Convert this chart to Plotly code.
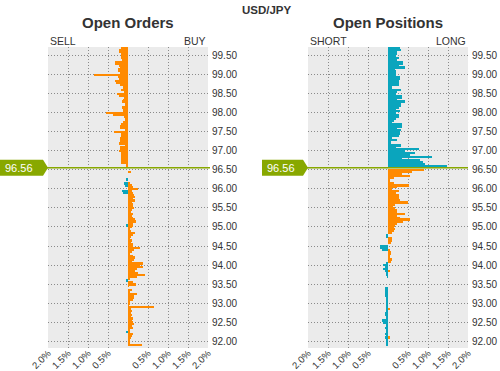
import plotly.graph_objects as go

# ---------------- data ----------------
pair = "USD/JPY"
current_price = 96.56

prices_above = [99.70, 99.65, 99.60, 99.55, 99.50, 99.45, 99.40, 99.35, 99.30, 99.25,
                99.20, 99.15, 99.10, 99.05, 99.00, 98.95, 98.90, 98.85, 98.80, 98.75,
                98.70, 98.65, 98.60, 98.55, 98.50, 98.45, 98.40, 98.35, 98.30, 98.25,
                98.20, 98.15, 98.10, 98.05, 98.00, 97.95, 97.90, 97.85, 97.80, 97.75,
                97.70, 97.65, 97.60, 97.55, 97.50, 97.45, 97.40, 97.35, 97.30, 97.25,
                97.20, 97.15, 97.10, 97.05, 97.00, 96.95, 96.90, 96.85, 96.80, 96.75,
                96.70, 96.65, 96.60]

prices_below = [96.50, 96.45, 96.40, 96.35, 96.30, 96.25, 96.20, 96.15, 96.10, 96.05,
                96.00, 95.95, 95.90, 95.85, 95.80, 95.75, 95.70, 95.65, 95.60, 95.55,
                95.50, 95.45, 95.40, 95.35, 95.30, 95.25, 95.20, 95.15, 95.10, 95.05,
                95.00, 94.95, 94.90, 94.85, 94.80, 94.75, 94.70, 94.65, 94.60, 94.55,
                94.50, 94.45, 94.40, 94.35, 94.30, 94.25, 94.20, 94.15, 94.10, 94.05,
                94.00, 93.95, 93.90, 93.85, 93.80, 93.75, 93.70, 93.65, 93.60, 93.55,
                93.50, 93.45, 93.40, 93.35, 93.30, 93.25, 93.20, 93.15, 93.10, 93.05,
                93.00, 92.95, 92.90, 92.85, 92.80, 92.75, 92.70, 92.65, 92.60, 92.55,
                92.50, 92.45, 92.40, 92.35, 92.30, 92.25, 92.20, 92.15, 92.10, 92.05,
                92.00, 91.95, 91.90]

# Open orders (% of total)
orders_sell_above = [0.17, 0.22, 0.22, 0.17, 0.18, 0.18, 0.14, 0.32, 0.32, 0.22,
                     0.20, 0.25, 0.25, 0.20, 0.85, 0.25, 0.23, 0.32, 0.30, 0.19,
                     0.12, 0.12, 0.17, 0.10, 0.27, 0.22, 0.10, 0.13, 0.15, 0.08,
                     0.08, 0.15, 0.13, 0.13, 0.54, 0.38, 0.11, 0.08, 0.08, 0.13,
                     0.17, 0.20, 0.20, 0.08, 0.35, 0.18, 0.17, 0.20, 0.20, 0.20,
                     0.22, 0.08, 0.20, 0.20, 0.22, 0.17, 0.17, 0.18, 0.17, 0.17,
                     0.17, 0.06, 0.06]

orders_buy_below = [0.00, 0.07, 0.00, 0.00, 0.00, 0.00, 0.00, 0.05, 0.09, 0.13,
                    0.24, 0.10, 0.12, 0.16, 0.18, 0.12, 0.17, 0.10, 0.13, 0.12,
                    0.15, 0.10, 0.08, 0.12, 0.10, 0.12, 0.18, 0.20, 0.12, 0.12,
                    0.10, 0.05, 0.07, 0.17, 0.12, 0.08, 0.05, 0.10, 0.08, 0.12,
                    0.12, 0.30, 0.15, 0.10, 0.05, 0.13, 0.18, 0.15, 0.10, 0.37,
                    0.30, 0.37, 0.22, 0.17, 0.25, 0.42, 0.22, 0.05, 0.00, 0.12,
                    0.20, 0.02, 0.00, 0.10, 0.05, 0.22, 0.15, 0.15, 0.12, 0.03,
                    0.05, 0.02, 0.65, 0.08, 0.10, 0.07, 0.10, 0.08, 0.13, 0.10,
                    0.13, 0.15, 0.10, 0.12, 0.03, 0.03, 0.13, 0.10, 0.07, 0.05,
                    0.05, 0.03, 0.35]

orders_sell_below = [0.00, 0.00, 0.00, 0.00, 0.00, 0.03, 0.00, 0.10, 0.08, 0.00,
                     0.00, 0.15, 0.12, 0.00, 0.00, 0.00, 0.00, 0.00, 0.00, 0.00,
                     0.00, 0.00, 0.00, 0.00, 0.00, 0.00, 0.00, 0.00, 0.00, 0.03,
                     0.00, 0.00, 0.00, 0.00, 0.00, 0.00, 0.00, 0.00, 0.00, 0.00,
                     0.00, 0.00, 0.00, 0.00, 0.00, 0.00, 0.00, 0.00, 0.00, 0.00,
                     0.00, 0.00, 0.00, 0.00, 0.00, 0.00, 0.00, 0.00, 0.05, 0.00,
                     0.00, 0.00, 0.00, 0.00, 0.00, 0.00, 0.00, 0.00, 0.00, 0.00,
                     0.00, 0.00, 0.00, 0.00, 0.00, 0.00, 0.00, 0.00, 0.00, 0.00,
                     0.00, 0.00, 0.00, 0.00, 0.00, 0.03, 0.00, 0.00, 0.00, 0.00,
                     0.00, 0.00, 0.00]

# Open positions (% of total)
positions_long_above = [0.30, 0.32, 0.23, 0.23, 0.21, 0.27, 0.22, 0.38, 0.38, 0.27,
                        0.43, 0.17, 0.20, 0.20, 0.20, 0.30, 0.30, 0.27, 0.27, 0.27,
                        0.10, 0.10, 0.32, 0.22, 0.20, 0.35, 0.35, 0.22, 0.42, 0.33,
                        0.33, 0.27, 0.20, 0.30, 0.20, 0.28, 0.28, 0.20, 0.15, 0.10,
                        0.35, 0.35, 0.22, 0.33, 0.30, 0.30, 0.27, 0.10, 0.22, 0.07,
                        0.07, 0.32, 0.20, 0.77, 0.42, 0.67, 0.55, 1.11, 0.35, 0.80,
                        0.88, 0.92, 1.47]

positions_long_below = [0.90, 0.60, 0.35, 0.55, 0.15, 0.05, 0.05, 0.15, 0.52, 0.23,
                        0.10, 0.28, 0.20, 0.28, 0.28, 0.28, 0.30, 0.49, 0.17, 0.13,
                        0.17, 0.22, 0.22, 0.42, 0.22, 0.30, 0.55, 0.38, 0.22, 0.17,
                        0.15, 0.17, 0.15, 0.10, 0.00, 0.00, 0.09, 0.10, 0.07, 0.00,
                        0.00, 0.00, 0.05, 0.07, 0.07, 0.05, 0.05, 0.10, 0.07, 0.00,
                        0.00, 0.00, 0.00, 0.03, 0.00, 0.00, 0.00, 0.00, 0.00, 0.00,
                        0.00, 0.00, 0.00, 0.00, 0.00, 0.00, 0.00, 0.00, 0.00, 0.00,
                        0.00, 0.00, 0.00, 0.04, 0.00, 0.00, 0.00, 0.00, 0.00, 0.00,
                        0.00, 0.00, 0.00, 0.00, 0.00, 0.00, 0.00, 0.00, 0.04, 0.00,
                        0.00, 0.00, 0.00]

positions_short_below = [0.00, 0.00, 0.00, 0.00, 0.00, 0.00, 0.00, 0.00, 0.00, 0.00,
                         0.00, 0.00, 0.00, 0.00, 0.00, 0.00, 0.00, 0.00, 0.00, 0.00,
                         0.00, 0.00, 0.00, 0.00, 0.00, 0.00, 0.00, 0.00, 0.00, 0.00,
                         0.00, 0.00, 0.00, 0.00, 0.05, 0.05, 0.00, 0.00, 0.00, 0.00,
                         0.20, 0.20, 0.15, 0.00, 0.00, 0.00, 0.00, 0.00, 0.00, 0.05,
                         0.13, 0.08, 0.12, 0.07, 0.03, 0.03, 0.02, 0.00, 0.00, 0.00,
                         0.00, 0.00, 0.08, 0.08, 0.08, 0.07, 0.07, 0.03, 0.03, 0.03,
                         0.05, 0.03, 0.03, 0.04, 0.03, 0.07, 0.07, 0.03, 0.03, 0.15,
                         0.13, 0.03, 0.03, 0.07, 0.05, 0.06, 0.07, 0.06, 0.07, 0.06,
                         0.06, 0.04, 0.04]

x_tickvals = [-2.0, -1.5, -1.0, -0.5, 0.5, 1.0, 1.5, 2.0]
x_ticktext = ["2.0%", "1.5%", "1.0%", "0.5%", "0.5%", "1.0%", "1.5%", "2.0%"]
y_tickvals = [92.0, 92.5, 93.0, 93.5, 94.0, 94.5, 95.0, 95.5, 96.0, 96.5,
              97.0, 97.5, 98.0, 98.5, 99.0, 99.5]

# ---------------- style ----------------
W, H = 500, 371
ORANGE = "#ff8a00"
BLUE = "#0aa5bd"
GREEN = "#88a800"
TEXT = "#333333"
FONT = "Liberation Sans, Arial, sans-serif"
BAR_W = 0.05
Y_RANGE = [91.82, 99.73]


def neg(vals):
    return [-v for v in vals]


fig = go.Figure()


def add_bar(x, y, color, xa, ya):
    fig.add_trace(go.Bar(x=x, y=y, orientation="h", width=BAR_W,
                         marker=dict(color=color, line=dict(width=0)),
                         xaxis=xa, yaxis=ya, hoverinfo="skip"))


add_bar(neg(orders_sell_above), prices_above, ORANGE, "x", "y")
add_bar(orders_buy_below, prices_below, ORANGE, "x", "y")
add_bar(neg(orders_sell_below), prices_below, BLUE, "x", "y")

add_bar(positions_long_above, prices_above, BLUE, "x2", "y2")
add_bar(positions_long_below, prices_below, ORANGE, "x2", "y2")
add_bar(neg(positions_short_below), prices_below, BLUE, "x2", "y2")

# plot area in pixels
L1, R1 = 48, 208
L2, R2 = 308, 468
TOP, BOT = 47, 348
ydom = [1 - BOT / H, 1 - TOP / H]
GRID = "#8a8a8a"
DASH = "1px,2px"

xcommon = dict(range=[-2, 2], tickvals=x_tickvals, ticktext=x_ticktext,
               tickangle=-45, showgrid=True, gridcolor=GRID,
               griddash=DASH, gridwidth=1, zeroline=False, showline=False,
               ticks="", tickfont=dict(size=9.5, color=TEXT, family=FONT),
               ticklabelstandoff=-3,
               fixedrange=True, automargin=False)
ycommon = dict(range=Y_RANGE, tickvals=y_tickvals, tickformat=".2f",
               side="right", showgrid=True, gridcolor=GRID, griddash=DASH,
               gridwidth=1, zeroline=False, showline=False, ticks="",
               tickfont=dict(size=10, color=TEXT, family=FONT),
               ticklabelstandoff=3,
               fixedrange=True, automargin=False)

fig.update_layout(
    width=W, height=H,
    margin=dict(l=0, r=0, t=0, b=0, autoexpand=False),
    paper_bgcolor="white", plot_bgcolor="#ebebeb",
    showlegend=False, barmode="overlay", bargap=0,
    font=dict(family=FONT, color=TEXT),
    xaxis=dict(domain=[L1 / W, R1 / W], anchor="y", **xcommon),
    yaxis=dict(domain=ydom, anchor="x", **ycommon),
    xaxis2=dict(domain=[L2 / W, R2 / W], anchor="y2", **xcommon),
    yaxis2=dict(domain=ydom, anchor="x2", **ycommon),
)

# current price line + label markers
half_h = 8 / ((BOT - TOP) / (Y_RANGE[1] - Y_RANGE[0]))
shapes = []
annotations = []
for (ly_ref, x_start, x_end, box_l, box_r) in [
        ("y", 0, R1 + 2, 0, 43),
        ("y2", 262, R2, 262, 303)]:
    shapes.append(dict(type="line", xref="paper", yref=ly_ref,
                       x0=x_start / W, x1=x_end / W, y0=current_price, y1=current_price,
                       line=dict(color=GREEN, width=1.5), layer="above"))
    p = current_price
    path = (f"M {box_l / W},{p + half_h} L {box_r / W},{p + half_h} "
            f"L {(box_r + 5) / W},{p} L {box_r / W},{p - half_h} "
            f"L {box_l / W},{p - half_h} Z")
    shapes.append(dict(type="path", xref="paper", yref=ly_ref, path=path,
                       fillcolor=GREEN, line=dict(width=0), layer="above"))
    annotations.append(dict(text=f"{current_price:.2f}", xref="paper", yref=ly_ref,
                            x=(box_l + 3) / W, y=p, xanchor="left", yanchor="middle",
                            showarrow=False,
                            font=dict(size=11, color="white", family=FONT)))


def ann(text, xpx, ypx, size, bold=False, anchor="center"):
    annotations.append(dict(text=f"<b>{text}</b>" if bold else text,
                            xref="paper", yref="paper", x=xpx / W, y=1 - ypx / H,
                            xanchor=anchor, yanchor="middle", showarrow=False,
                            font=dict(size=size, color=TEXT, family=FONT)))


ann(pair, 267, 10, 11.5, bold=True)
ann("Open Orders", 128, 22, 15, bold=True)
ann("Open Positions", 388, 22, 15, bold=True)
ann("SELL", L1, 41, 10.5, anchor="left")
ann("BUY", R1, 41, 10.5, anchor="right")
ann("SHORT", L2, 41, 10.5, anchor="left")
ann("LONG", R2, 41, 10.5, anchor="right")

fig.update_layout(shapes=shapes, annotations=annotations)

fig.write_html("out.html", config={"displayModeBar": False},
               post_script="document.body.style.margin='0';"
                           "document.body.style.overflow='hidden';")
